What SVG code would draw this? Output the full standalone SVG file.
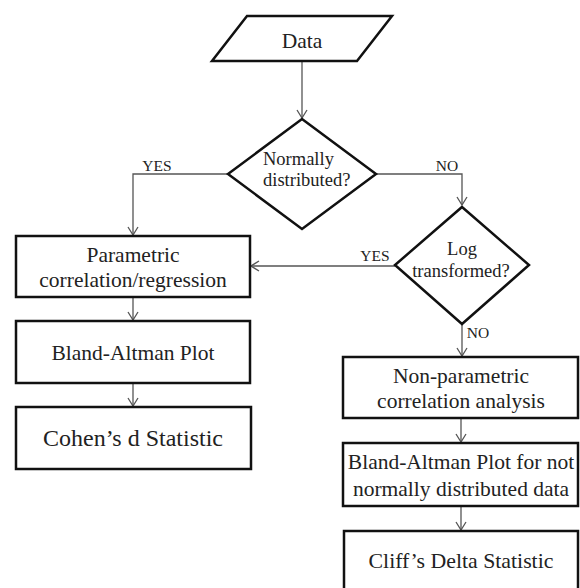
<svg xmlns="http://www.w3.org/2000/svg" width="580" height="588" viewBox="0 0 580 588">
<defs>
<style>
.shape{fill:#fff;stroke:#111;stroke-width:2.5;stroke-linejoin:miter}
.conn{fill:none;stroke:#555;stroke-width:1.3}
.t{font-family:"Liberation Serif","Times New Roman",serif;fill:#222;text-anchor:middle}
.b{font-size:21.5px}
.q{font-size:18.5px}
.l{font-size:15.5px}
</style>
<marker id="arr" viewBox="0 0 10 12" refX="9" refY="6" markerWidth="10" markerHeight="12" markerUnits="userSpaceOnUse" orient="auto">
<path d="M1,1 L9,6 L1,11" fill="none" stroke="#555" stroke-width="1.3"/>
</marker>
</defs>
<rect width="580" height="588" fill="#fff"/>
<g id="connectors">
<path class="conn" d="M302,61 L302,118" marker-end="url(#arr)"/>
<path class="conn" d="M228,174 L133,174 L133,235" marker-end="url(#arr)"/>
<path class="conn" d="M376,174 L462,174 L462,205" marker-end="url(#arr)"/>
<path class="conn" d="M395,266 L251,266" marker-end="url(#arr)"/>
<path class="conn" d="M462,324 L462,356" marker-end="url(#arr)"/>
<path class="conn" d="M133,297 L133,320" marker-end="url(#arr)"/>
<path class="conn" d="M133,383 L133,406" marker-end="url(#arr)"/>
<path class="conn" d="M461,418 L461,442" marker-end="url(#arr)"/>
<path class="conn" d="M461,506 L461,530" marker-end="url(#arr)"/>
<text class="t l" x="157" y="171">YES</text>
<text class="t l" x="447" y="171">NO</text>
<text class="t l" x="375" y="261">YES</text>
<text class="t l" x="478" y="338">NO</text>
</g>
<g id="data">
<polygon class="shape" points="247,16 392,16 357,61 212,61"/>
<text class="t b" x="302" y="48">Data</text>
</g>
<g id="normally">
<polygon class="shape" points="302,119 376,174 302,229 228,174"/>
<text class="t q" x="263" y="165" text-anchor="start" style="text-anchor:start">Normally</text>
<text class="t q" x="263" y="186" style="text-anchor:start">distributed?</text>
</g>
<g id="log">
<polygon class="shape" points="462,207 529,265 462,324 395,265"/>
<text class="t q" x="462" y="255">Log</text>
<text class="t q" x="461" y="277">transformed?</text>
</g>
<g id="parametric">
<rect class="shape" x="16" y="236" width="234" height="61"/>
<text class="t b" x="133" y="262">Parametric</text>
<text class="t b" x="133" y="287">correlation/regression</text>
</g>
<g id="bland">
<rect class="shape" x="16" y="321" width="234" height="62"/>
<text class="t b" x="133" y="360">Bland-Altman Plot</text>
</g>
<g id="cohen">
<rect class="shape" x="16" y="407" width="235" height="62"/>
<text class="t" x="133" y="446" style="font-size:24px">Cohen’s d Statistic</text>
</g>
<g id="nonparametric">
<rect class="shape" x="343" y="357" width="235" height="61"/>
<text class="t b" x="461" y="383">Non-parametric</text>
<text class="t b" x="461" y="408">correlation analysis</text>
</g>
<g id="blandnot">
<rect class="shape" x="343" y="443" width="235" height="63"/>
<text class="t b" x="461" y="469">Bland-Altman Plot for not</text>
<text class="t b" x="461" y="496">normally distributed data</text>
</g>
<g id="cliff">
<rect class="shape" x="344" y="531" width="234" height="62"/>
<text class="t" x="461" y="568" style="font-size:21.8px">Cliff’s Delta Statistic</text>
</g>
</svg>
